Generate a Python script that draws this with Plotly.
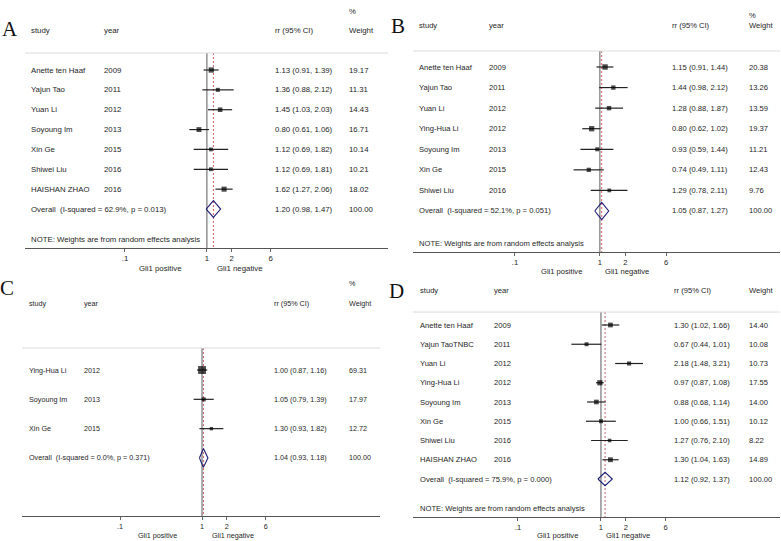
import plotly.graph_objects as go

# ---------------- data ----------------
A_study = ["Anette ten Haaf", "Yajun Tao", "Yuan Li", "Soyoung Im", "Xin Ge", "Shiwei Liu", "HAISHAN ZHAO"]
A_year = ["2009", "2011", "2012", "2013", "2015", "2016", "2016"]
A_rr = [1.13, 1.36, 1.45, 0.80, 1.12, 1.12, 1.62]
A_lo = [0.91, 0.88, 1.03, 0.61, 0.69, 0.69, 1.27]
A_hi = [1.39, 2.12, 2.03, 1.06, 1.82, 1.81, 2.06]
A_w = [19.17, 11.31, 14.43, 16.71, 10.14, 10.21, 18.02]
A_overall = [1.20, 0.98, 1.47]
A_het = ["62.9%", "0.013"]

B_study = ["Anette ten Haaf", "Yajun Tao", "Yuan Li", "Ying-Hua Li", "Soyoung Im", "Xin Ge", "Shiwei Liu"]
B_year = ["2009", "2011", "2012", "2012", "2013", "2015", "2016"]
B_rr = [1.15, 1.44, 1.28, 0.80, 0.93, 0.74, 1.29]
B_lo = [0.91, 0.98, 0.88, 0.62, 0.59, 0.49, 0.78]
B_hi = [1.44, 2.12, 1.87, 1.02, 1.44, 1.11, 2.11]
B_w = [20.38, 13.26, 13.59, 19.37, 11.21, 12.43, 9.76]
B_overall = [1.05, 0.87, 1.27]
B_het = ["52.1%", "0.051"]

C_study = ["Ying-Hua Li", "Soyoung Im", "Xin Ge"]
C_year = ["2012", "2013", "2015"]
C_rr = [1.00, 1.05, 1.30]
C_lo = [0.87, 0.79, 0.93]
C_hi = [1.16, 1.39, 1.82]
C_w = [69.31, 17.97, 12.72]
C_overall = [1.04, 0.93, 1.18]
C_het = ["0.0%", "0.371"]

D_study = ["Anette ten Haaf", "Yajun TaoTNBC", "Yuan Li", "Ying-Hua Li", "Soyoung Im", "Xin Ge", "Shiwei Liu", "HAISHAN ZHAO"]
D_year = ["2009", "2011", "2012", "2012", "2013", "2015", "2016", "2016"]
D_rr = [1.30, 0.67, 2.18, 0.97, 0.88, 1.00, 1.27, 1.30]
D_lo = [1.02, 0.44, 1.48, 0.87, 0.68, 0.66, 0.76, 1.04]
D_hi = [1.66, 1.01, 3.21, 1.08, 1.14, 1.51, 2.10, 1.63]
D_w = [14.40, 10.08, 10.73, 17.55, 14.00, 10.12, 8.22, 14.89]
D_overall = [1.12, 0.92, 1.37]
D_het = ["75.9%", "0.000"]

tick_vals = [0.1, 1, 2, 6]
tick_text = [".1", "1", "2", "6"]
headers = ["study", "year", "rr (95% CI)", "Weight"]
note_text = "NOTE: Weights are from random effects analysis"
fav_left, fav_right = "Gli1 positive", "Gli1 negative"

# ---------------- layout specs (pixel positions) ----------------
W, H = 781, 541
def PX(x): return x / W
def PY(y): return 1 - y / H

panels = [
    dict(name="A", study=A_study, year=A_year, rr=A_rr, lo=A_lo, hi=A_hi, w=A_w, ov=A_overall, het=A_het,
         xd=(25, 388), yd=(0, 248), row0=70, step=19.86, xr=(-2.22, 2.21),
         cols=(29, 102, 273, 347), hdr=30, pct=11, sep=53, note=239, gli=268, gl=(160, 240),
         letter=(10, 29), fs=7.8, msz=1.2, dh=0.42),
    dict(name="B", study=B_study, year=B_year, rr=B_rr, lo=B_lo, hi=B_hi, w=B_w, ov=B_overall, het=B_het,
         xd=(413, 780), yd=(0, 252), row0=67, step=20.57, xr=(-2.2, 2.12),
         cols=(417, 487, 670, 747), hdr=25, pct=15, sep=51, note=243, gli=271, gl=(561, 627),
         letter=(398, 26), fs=7.6, msz=1.2, dh=0.42),
    dict(name="C", study=C_study, year=C_year, rr=C_rr, lo=C_lo, hi=C_hi, w=C_w, ov=C_overall, het=C_het,
         xd=(22, 380), yd=(280, 516), row0=370, step=29.33, xr=(-2.195, 2.17),
         cols=(27, 82, 272, 347), hdr=303, pct=283, sep=348, note=None, gli=535, gl=(157, 233),
         letter=(7, 288), fs=7.2, msz=0.95, dh=0.32),
    dict(name="D", study=D_study, year=D_year, rr=D_rr, lo=D_lo, hi=D_hi, w=D_w, ov=D_overall, het=D_het,
         xd=(413, 780), yd=(280, 517), row0=325, step=19.25, xr=(-2.265, 2.157),
         cols=(418, 492, 672, 747), hdr=290, pct=None, sep=312, note=508, gli=535, gl=(557, 628),
         letter=(396, 291), fs=7.6, msz=1.25, dh=0.35),
]

TXT = "#262626"
FONT = "Arial, Liberation Sans, sans-serif"

fig = go.Figure()
layout = dict(width=W, height=H, margin=dict(l=0, r=0, t=0, b=0),
              paper_bgcolor="white", plot_bgcolor="white", showlegend=False)
annotations, shapes = [], []

for i, p in enumerate(panels):
    k = "" if i == 0 else str(i + 1)
    xa, ya = "x" + k, "y" + k
    def row(py, p=p):
        return 1 + (py - p["row0"]) / p["step"]
    y_top, y_bot = row(p["yd"][0]), row(p["yd"][1])
    layout["xaxis" + k] = dict(domain=[PX(p["xd"][0]), PX(p["xd"][1])], anchor=ya, type="log",
                               range=list(p["xr"]), tickvals=tick_vals, ticktext=tick_text,
                               ticks="outside", ticklen=3, tickcolor="#666", tickwidth=1,
                               showgrid=False, zeroline=False, showline=True, linecolor="#555",
                               linewidth=1, tickfont=dict(family=FONT, size=p["fs"], color=TXT))
    layout["yaxis" + k] = dict(domain=[PY(p["yd"][1]), PY(p["yd"][0])], anchor=xa,
                               range=[y_bot, y_top], visible=False, showgrid=False, zeroline=False)
    n = len(p["study"])
    rows = list(range(1, n + 1))
    ov_row = n + 1
    sep_row = row(p["sep"])

    # reference line at 1
    fig.add_trace(go.Scatter(x=[1, 1], y=[sep_row, y_bot], mode="lines", xaxis=xa, yaxis=ya,
                             line=dict(color="#5a5a5a", width=1), hoverinfo="skip"))
    # dashed overall line
    fig.add_trace(go.Scatter(x=[p["ov"][0], p["ov"][0]], y=[sep_row, y_bot], mode="lines", xaxis=xa, yaxis=ya,
                             line=dict(color="#d0606a", width=1, dash="2px,2px"), hoverinfo="skip"))
    # CI lines
    cx, cy = [], []
    for r, lo, hi in zip(rows, p["lo"], p["hi"]):
        cx += [lo, hi, None]
        cy += [r, r, None]
    fig.add_trace(go.Scatter(x=cx, y=cy, mode="lines", xaxis=xa, yaxis=ya,
                             line=dict(color="#222", width=1.2), hoverinfo="skip"))
    # squares
    fig.add_trace(go.Scatter(x=p["rr"], y=rows, mode="markers", xaxis=xa, yaxis=ya,
                             marker=dict(symbol="square", color="#000",
                                         size=[p["msz"] * wt ** 0.5 for wt in p["w"]], line=dict(width=0)),
                             hoverinfo="skip"))
    # diamond
    est, olo, ohi = p["ov"]
    dh = p["dh"]
    fig.add_trace(go.Scatter(x=[olo, est, ohi, est, olo], y=[ov_row, ov_row - dh, ov_row, ov_row + dh, ov_row],
                             mode="lines", xaxis=xa, yaxis=ya, line=dict(color="#1c1c74", width=1.1),
                             hoverinfo="skip"))

    fnt = dict(family=FONT, size=p["fs"], color=TXT)
    c = p["cols"]
    # separator
    shapes.append(dict(type="line", xref=xa + " domain", x0=0, x1=1, yref="paper",
                       y0=PY(p["sep"]), y1=PY(p["sep"]), line=dict(color="#dcdcdc", width=1)))
    # headers
    for col, h in zip(c, headers):
        annotations.append(dict(text=h, x=PX(col), y=PY(p["hdr"]), xref="paper", yref="paper",
                                xanchor="left", yanchor="middle", showarrow=False, font=fnt))
    if p["pct"] is not None:
        annotations.append(dict(text="%", x=PX(c[3]), y=PY(p["pct"]), xref="paper", yref="paper",
                                xanchor="left", yanchor="middle", showarrow=False, font=fnt))
    # study rows
    for r, s, yr, rr, lo, hi, wt in zip(rows, p["study"], p["year"], p["rr"], p["lo"], p["hi"], p["w"]):
        for col, t in zip(c, [s, yr, f"{rr:.2f} ({lo:.2f}, {hi:.2f})", f"{wt:.2f}"]):
            annotations.append(dict(text=t, x=PX(col), y=r, xref="paper", yref=ya,
                                    xanchor="left", yanchor="middle", showarrow=False, font=fnt))
    # overall row
    ov_label = f"Overall  (I-squared = {p['het'][0]}, p = {p['het'][1]})"
    for col, t in zip([c[0], c[2], c[3]], [ov_label, f"{est:.2f} ({olo:.2f}, {ohi:.2f})", "100.00"]):
        annotations.append(dict(text=t, x=PX(col), y=ov_row, xref="paper", yref=ya,
                                xanchor="left", yanchor="middle", showarrow=False, font=fnt))
    if p["note"] is not None:
        annotations.append(dict(text=note_text, x=PX(c[0]), y=PY(p["note"]), xref="paper", yref="paper",
                                xanchor="left", yanchor="middle", showarrow=False, font=fnt))
    # favours labels
    for gx, t in zip(p["gl"], [fav_left, fav_right]):
        annotations.append(dict(text=t, x=PX(gx), y=PY(p["gli"]), xref="paper", yref="paper",
                                xanchor="center", yanchor="middle", showarrow=False, font=fnt))
    # panel letter
    annotations.append(dict(text=p["name"], x=PX(p["letter"][0]), y=PY(p["letter"][1]), xref="paper",
                            yref="paper", xanchor="center", yanchor="middle", showarrow=False,
                            font=dict(family="Liberation Serif, Times New Roman, serif", size=21, color="#111")))

layout["annotations"] = annotations
layout["shapes"] = shapes
fig.update_layout(**layout)
fig.write_html("out.html", config={"displayModeBar": False},
               post_script="document.body.style.margin='0';document.body.style.overflow='hidden';")
